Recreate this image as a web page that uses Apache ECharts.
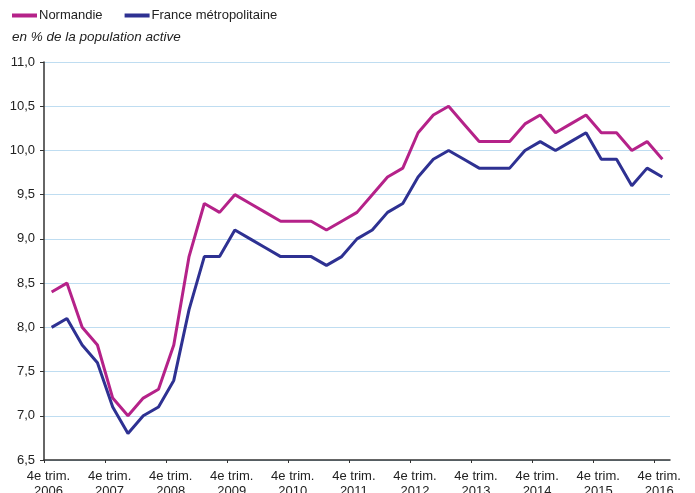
<!DOCTYPE html>
<html><head><meta charset="utf-8">
<script src="https://cdn.jsdelivr.net/npm/echarts@6/dist/echarts.min.js"></script>
<style>html,body{margin:0;padding:0;background:#fff}#c{width:695px;height:493px}</style>
</head><body><div id="c"></div>
<script>
var seriesNames = ['Normandie', 'France métropolitaine'];
var tickYears = [2006, 2007, 2008, 2009, 2010, 2011, 2012, 2013, 2014, 2015, 2016];
var normandie = [8.4, 8.5, 8.0, 7.8, 7.2, 7.0, 7.2, 7.3, 7.8, 8.8, 9.4, 9.3, 9.5, 9.4, 9.3, 9.2, 9.2, 9.2, 9.1, 9.2, 9.3, 9.5, 9.7, 9.8, 10.2, 10.4, 10.5, 10.3, 10.1, 10.1, 10.1, 10.3, 10.4, 10.2, 10.3, 10.4, 10.2, 10.2, 10.0, 10.1, 9.9];
var france = [8.0, 8.1, 7.8, 7.6, 7.1, 6.8, 7.0, 7.1, 7.4, 8.2, 8.8, 8.8, 9.1, 9.0, 8.9, 8.8, 8.8, 8.8, 8.7, 8.8, 9.0, 9.1, 9.3, 9.4, 9.7, 9.9, 10.0, 9.9, 9.8, 9.8, 9.8, 10.0, 10.1, 10.0, 10.1, 10.2, 9.9, 9.9, 9.6, 9.8, 9.7];

function toPairs(arr) { return arr.map(function (v, i) { return [i, v]; }); }
var tickValues = tickYears.map(function (y, k) { return 4 * k - 0.5; });

var chart = echarts.init(document.getElementById('c'), null, {renderer: 'canvas'});
chart.setOption({
  animation: false,
  textStyle: {fontFamily: 'Liberation Sans, Arial, sans-serif'},
  title: {
    text: 'en % de la population active',
    left: 7, top: 25,
    textStyle: {fontSize: 13.5, fontStyle: 'italic', fontWeight: 'normal', color: '#222'}
  },
  legend: {
    left: 7, top: 4,
    itemWidth: 25, itemHeight: 4, itemGap: 22,
    icon: 'rect',
    textStyle: {fontSize: 13, color: '#222', padding: [0, 0, 0, -3]},
    data: seriesNames
  },
  grid: {left: 44, right: 25, top: 62, bottom: 33, containLabel: false, outerBoundsMode: 'none'},
  xAxis: {
    type: 'value',
    min: -0.5, max: 40.5,
    axisLine: {show: true, onZero: false, lineStyle: {color: '#333', width: 1.5}},
    axisTick: {show: true, length: 3, customValues: tickValues, lineStyle: {color: '#333'}},
    splitLine: {show: false},
    axisLabel: {
      customValues: tickValues,
      fontSize: 13, color: '#222', lineHeight: 15, margin: 9,
      padding: [0, 0, 0, 9],
      formatter: function (v) {
        var k = Math.round((v + 0.5) / 4);
        return '4e trim.\n' + tickYears[k];
      }
    }
  },
  yAxis: {
    type: 'value',
    min: 6.5, max: 11, interval: 0.5,
    axisLine: {show: true, onZero: false, lineStyle: {color: '#333', width: 1.5}},
    axisTick: {show: true, length: 4, lineStyle: {color: '#333'}},
    splitLine: {show: true, lineStyle: {color: '#BFDDF1', width: 1}},
    axisLabel: {
      fontSize: 13, color: '#222', margin: 9,
      formatter: function (v) { return v.toFixed(1).replace('.', ','); }
    }
  },
  series: [
    {name: seriesNames[0], type: 'line', data: toPairs(normandie), symbol: 'none',
     lineStyle: {color: '#B52289', width: 3}, itemStyle: {color: '#B52289'}},
    {name: seriesNames[1], type: 'line', data: toPairs(france), symbol: 'none',
     lineStyle: {color: '#2E3192', width: 3}, itemStyle: {color: '#2E3192'}}
  ]
});
</script></body></html>
